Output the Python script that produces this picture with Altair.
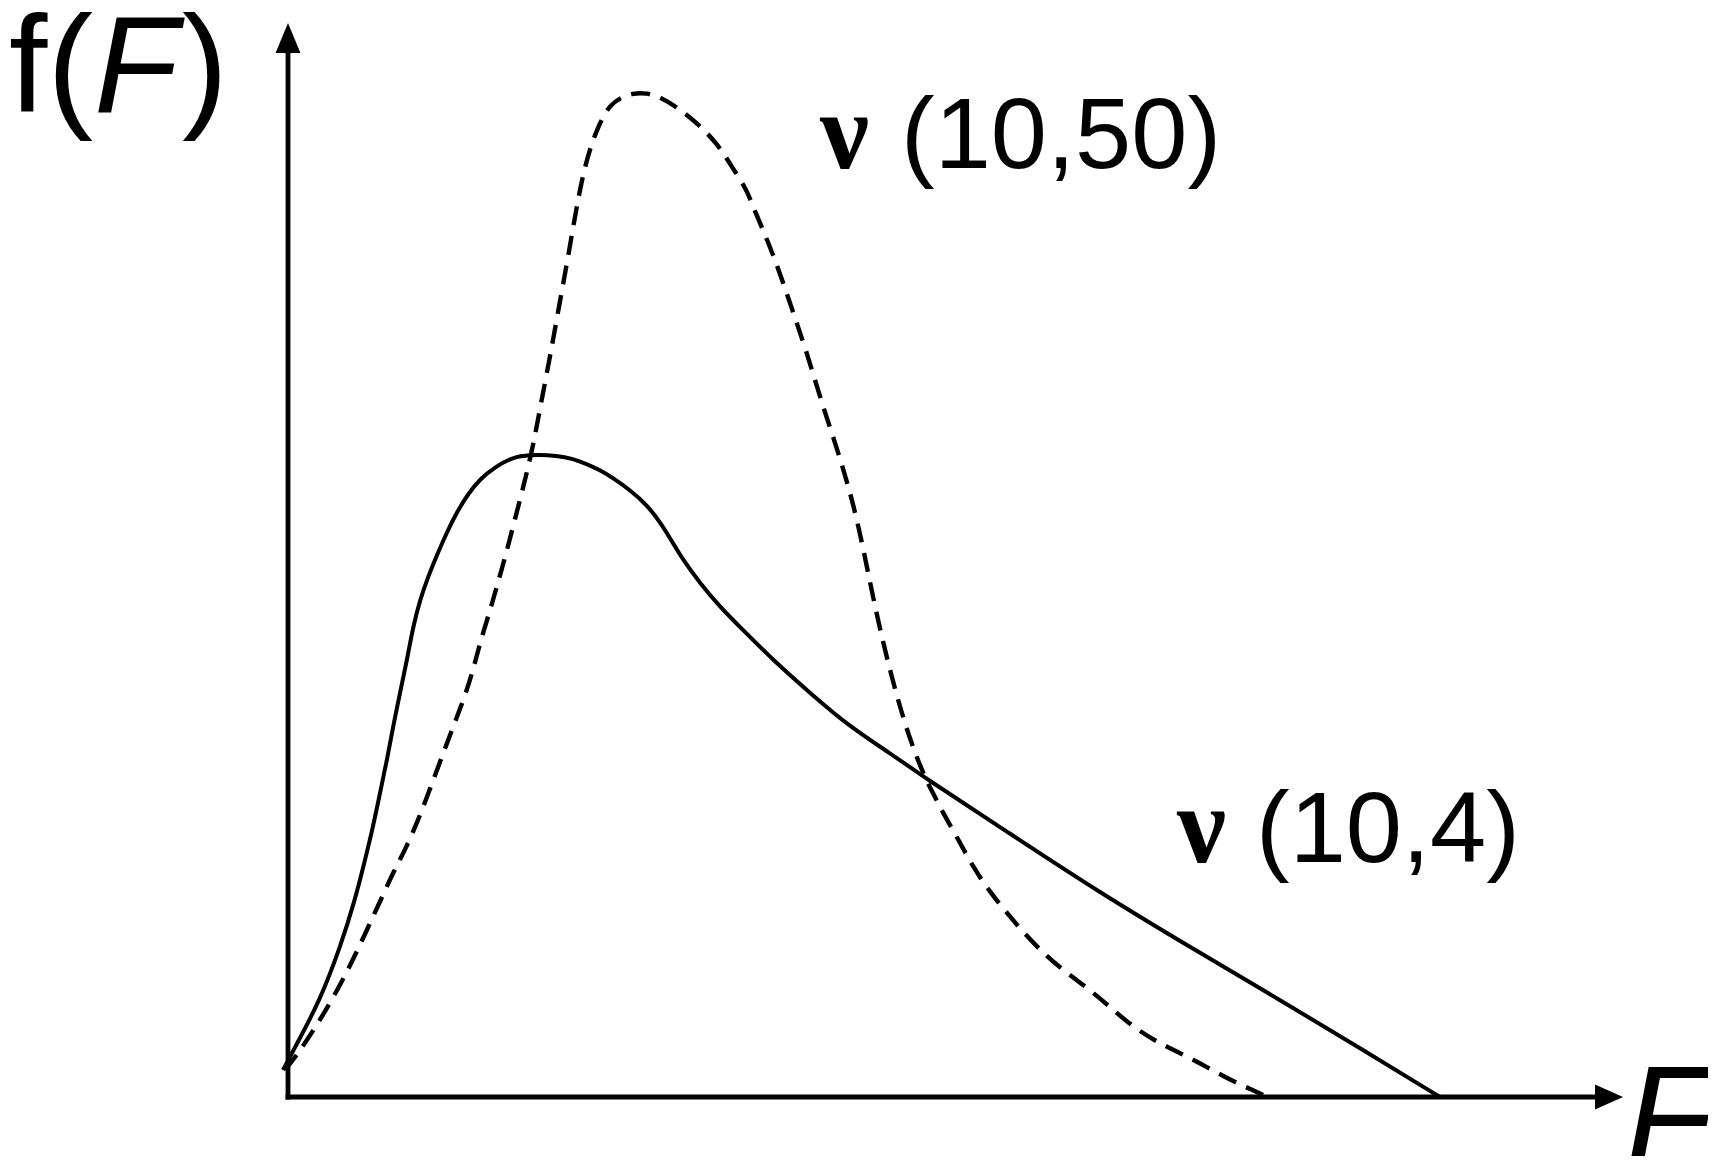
import altair as alt
import pandas as pd

# F-distribution density curves (F units on x, f(F) on y)
solid_F = [-0.020, 0.048, 0.128, 0.208, 0.268, 0.308, 0.340, 0.368, 0.396, 0.420,
           0.448, 0.476, 0.500, 0.528, 0.560, 0.596, 0.636, 0.676, 0.720, 0.768,
           0.828, 0.900, 0.968, 1.036, 1.108, 1.168, 1.248, 1.300, 1.368, 1.436,
           1.488, 1.528, 1.580, 1.648, 1.728, 1.820, 1.940, 2.088, 2.248, 2.408,
           2.548, 2.848, 3.248, 3.648, 3.968, 4.288, 4.608]
solid_f = [0.027, 0.059, 0.097, 0.149, 0.197, 0.237, 0.270, 0.304, 0.337, 0.370,
           0.404, 0.437, 0.470, 0.497, 0.520, 0.542, 0.565, 0.585, 0.603, 0.618,
           0.630, 0.640, 0.642, 0.642, 0.640, 0.636, 0.627, 0.619, 0.607, 0.592,
           0.575, 0.559, 0.537, 0.514, 0.490, 0.467, 0.437, 0.404, 0.370, 0.344,
           0.319, 0.270, 0.204, 0.144, 0.097, 0.049, 0.000]

dashed_F = [-0.012, 0.036, 0.108, 0.176, 0.248, 0.312, 0.380, 0.420, 0.468, 0.516,
            0.556, 0.596, 0.636, 0.676, 0.716, 0.748, 0.768, 0.800, 0.820, 0.860,
            0.900, 0.940, 0.980, 1.012, 1.048, 1.080, 1.116, 1.140, 1.160, 1.180,
            1.208, 1.248, 1.288, 1.328, 1.380, 1.436, 1.488, 1.556, 1.636, 1.716,
            1.776, 1.836, 1.860, 1.940, 2.008, 2.076, 2.140, 2.208, 2.276, 2.328,
            2.380, 2.436, 2.488, 2.548, 2.580, 2.620, 2.676, 2.740, 2.808, 2.876,
            2.940, 3.036, 3.116, 3.208, 3.288, 3.380, 3.476, 3.568, 3.676, 3.768,
            3.876, 3.900]
dashed_f = [0.027, 0.042, 0.069, 0.097, 0.131, 0.165, 0.202, 0.224, 0.247, 0.274,
            0.300, 0.327, 0.354, 0.380, 0.407, 0.434, 0.454, 0.480, 0.497, 0.532,
            0.570, 0.609, 0.650, 0.694, 0.740, 0.785, 0.834, 0.869, 0.897, 0.922,
            0.949, 0.975, 0.992, 0.999, 1.004, 1.004, 1.000, 0.990, 0.974, 0.954,
            0.930, 0.907, 0.890, 0.844, 0.794, 0.744, 0.690, 0.640, 0.580, 0.514,
            0.454, 0.400, 0.357, 0.319, 0.304, 0.284, 0.260, 0.230, 0.205, 0.184,
            0.165, 0.140, 0.124, 0.107, 0.090, 0.070, 0.055, 0.044, 0.030, 0.017,
            0.005, 0.002]

# labels
curve_labels = ["(10,50)", "(10,4)"]
nu_label = "\u03bd"

W, H = 1700, 1148
xs = alt.Scale(domain=[-1.12, 5.68], nice=False, zero=False)
ys = alt.Scale(domain=[-0.059, 1.089], nice=False, zero=False)

solid_df = pd.DataFrame({"F": solid_F, "f": solid_f})
dashed_df = pd.DataFrame({"F": dashed_F, "f": dashed_f})

solid = alt.Chart(solid_df).mark_line(
    color="black", strokeWidth=4, interpolate="basis"
).encode(
    x=alt.X("F:Q", scale=xs, axis=None),
    y=alt.Y("f:Q", scale=ys, axis=None),
)

dashed = alt.Chart(dashed_df).mark_line(
    color="black", strokeWidth=4.4, strokeDash=[19, 11], interpolate="basis"
).encode(
    x=alt.X("F:Q", scale=xs, axis=None),
    y=alt.Y("f:Q", scale=ys, axis=None),
)

# axis lines
axes_df = pd.DataFrame({"x": [0.0, 0.0], "x2": [0.0, 5.228], "y": [0.0, 0.0], "y2": [1.044, 0.0]})
axes = alt.Chart(axes_df).mark_rule(color="black", strokeWidth=4.8, strokeCap="square").encode(
    x=alt.X("x:Q", scale=xs, axis=None), x2="x2:Q",
    y=alt.Y("y:Q", scale=ys, axis=None), y2="y2:Q",
)

up_df = pd.DataFrame({"x": [0.0], "y": [1.059]})
up_arrow = alt.Chart(up_df).mark_point(
    shape="M0,-1L0.83,1L-0.83,1Z", filled=True, size=900, color="black", opacity=1, strokeWidth=0
).encode(x=alt.X("x:Q", scale=xs, axis=None), y=alt.Y("y:Q", scale=ys, axis=None))

right_df = pd.DataFrame({"x": [5.284], "y": [0.0]})
right_arrow = alt.Chart(right_df).mark_point(
    shape="M1,0L-1,-0.9L-1,0.9Z", filled=True, size=784, color="black", opacity=1, strokeWidth=0
).encode(x=alt.X("x:Q", scale=xs, axis=None), y=alt.Y("y:Q", scale=ys, axis=None))


def text_layer(xv, yv, texts, font, size, style="normal", weight="normal"):
    df = pd.DataFrame({"x": xv, "y": yv, "t": texts})
    return alt.Chart(df).mark_text(
        align="left", baseline="alphabetic", font=font, fontSize=size,
        fontStyle=style, fontWeight=weight, color="black"
    ).encode(
        x=alt.X("x:Q", scale=xs, axis=None),
        y=alt.Y("y:Q", scale=ys, axis=None),
        text="t:N",
    )


ylab_up = text_layer([-1.116, -0.424], [0.985, 0.985], ["f(", ")"], "Liberation Sans", 138)
ylab_it = text_layer([-0.776], [0.985], ["F"], "Liberation Sans", 138, "italic")
xlab = text_layer([5.348], [-0.069], ["F"], "Liberation Sans", 144, "italic")
nus = text_layer([2.128, 3.556], [0.929, 0.235], [nu_label, nu_label], "Liberation Serif", 110,
                 weight="bold")
nums = text_layer([2.452, 3.872], [0.929, 0.235], curve_labels, "Liberation Sans", 101)

chart = alt.layer(
    axes, up_arrow, right_arrow, dashed, solid, ylab_up, ylab_it, xlab, nus, nums
).properties(
    width=W, height=H, padding=0, autosize=alt.AutoSizeParams(type="none"),
    background="white",
).configure_view(stroke=None)

chart.save("out.html", embed_options={"renderer": "svg", "actions": False})
